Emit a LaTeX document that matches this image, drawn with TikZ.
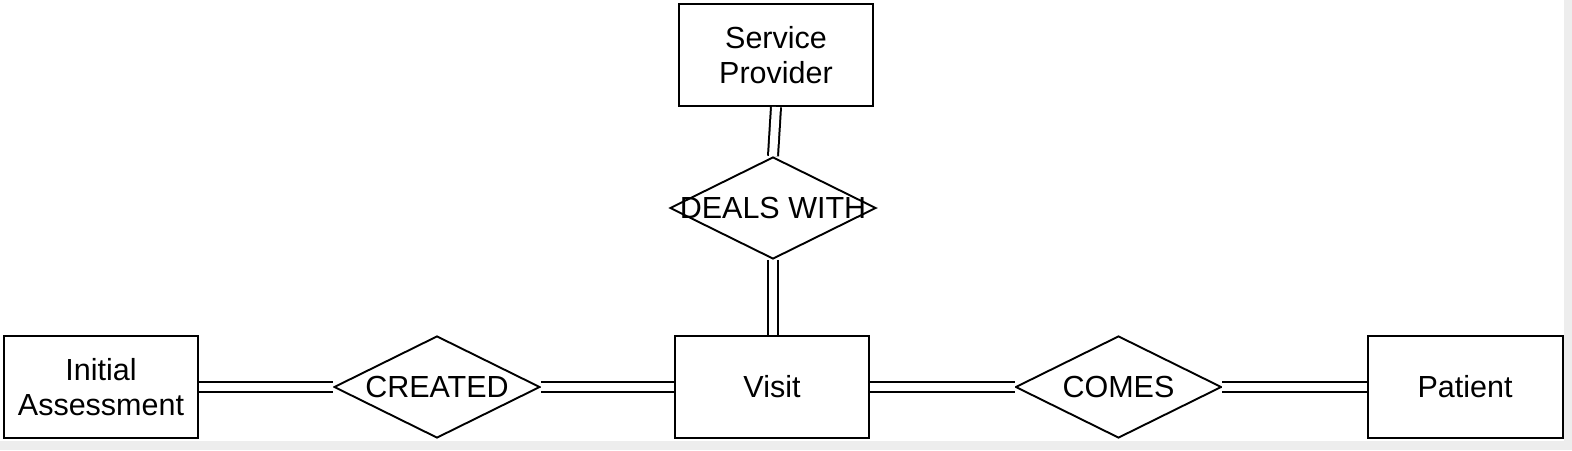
\documentclass[tikz,border=0pt]{standalone}
\usepackage{fontspec}
\setmainfont{Liberation Sans}
\usetikzlibrary{shapes.geometric}
\begin{document}
\begin{tikzpicture}[x=1pt,y=-1pt,
  txt/.style={font=\fontsize{30.5}{35}\selectfont},
  entity/.style={draw, rectangle, line width=2pt, minimum width=194pt, minimum height=102pt, inner sep=0pt, align=center, txt},
  relation/.style={draw, diamond, line width=1.9pt, minimum width=206pt, minimum height=102pt, inner sep=0pt, shape aspect=2},
  link/.style={draw, line width=2pt, double=white, double distance=8pt}
]
\fill[black!7] (0,0) rectangle (1572,450);
\fill[white] (0,0) rectangle (1564,441);
\useasboundingbox (0,0) rectangle (1572,450);

\node[entity] (sp) at (776,55) {Service\\Provider};
\node[relation, label={[txt]center:DEALS WITH}] (dw) at (773,208) {};
\node[entity] (visit) at (772,387) {Visit};
\node[entity] (ia) at (101,387) {Initial\\Assessment};
\node[relation, label={[txt]center:CREATED}] (created) at (437,387) {};
\node[relation, label={[txt]center:COMES}] (comes) at (1118.5,387) {};
\node[entity, minimum width=195pt] (patient) at (1465,387) {Patient};

\draw[link] (sp.south) -- (dw.north);
\draw[link] (dw.south) -- (dw.south |- visit.north);
\draw[link] (ia.east) -- (created.west);
\draw[link] (created.east) -- (visit.west);
\draw[link] (visit.east) -- (comes.west);
\draw[link] (comes.east) -- (patient.west);
\end{tikzpicture}
\end{document}
